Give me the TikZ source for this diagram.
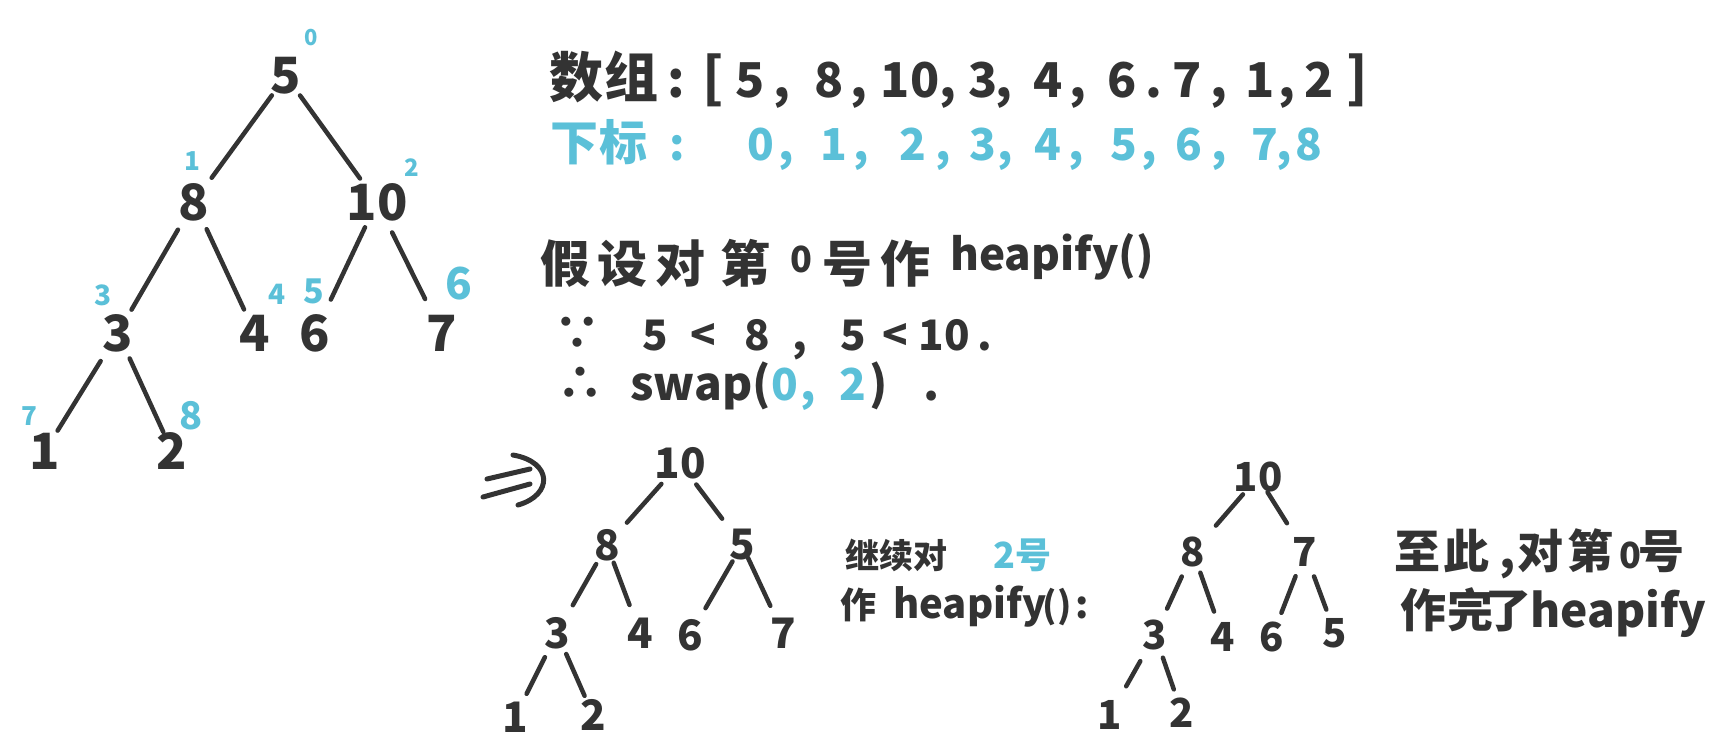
\documentclass[tikz,border=0pt]{standalone}
\usepackage{fontspec}
\setmainfont{Noto Sans CJK SC}
\definecolor{ink}{HTML}{333333}
\definecolor{sky}{HTML}{5BC0D8}
\tikzset{
  hw/.style={font=\bfseries\fontsize{#1}{#1}\selectfont, text=ink, inner sep=0pt},
  hw/.default=40,
  sk/.style={hw=#1, text=sky},
  sk/.default=40,
  link/.style={draw=ink, line width=4.5pt, line cap=round},
}
\begin{document}
\begin{tikzpicture}[x=1pt,y=-1pt]
\fill[white] (0,0) rectangle (1713,755);
\path[use as bounding box] (0,0) rectangle (1713,755);

% ---------- tree 1 ----------
\node[hw=50] (a0) at (286,76) {5};
\node[hw=50] (a1) at (194,202) {8};
\node[hw=50] (a2) at (377,202) {10};
\node[hw=50] (a3) at (118,333) {3};
\node[hw=50] (a4) at (255,333) {4};
\node[hw=50] (a5) at (315,333) {6};
\node[hw=50] (a6) at (442,333) {7};
\node[hw=50] (a7) at (45,451) {1};
\node[hw=50] (a8) at (172,451) {2};
\node[sk=22] (i0) at (311,38) {0};
\node[sk=26] (i1) at (192,161) {1};
\node[sk=24] (i2) at (412,168) {2};
\node[sk=28] (i3) at (103,295) {3};
\node[sk=28] (i4) at (277,294) {4};
\node[sk=34] (i5) at (314,291) {5};
\node[sk=44] (i6) at (459,284) {6};
\node[sk=26] (i7) at (29,416) {7};
\node[sk=38] (i8) at (191,416) {8};
\draw[link, shorten <=24pt, shorten >=30pt] (a0.center) -- (a1.center);
\draw[link, shorten <=24pt, shorten >=29pt] (a0.center) -- (a2.center);
\draw[link, shorten <=32pt, shorten >=27pt] (a1.center) -- (a3.center);
\draw[link, shorten <=30pt, shorten >=26pt] (a1.center) -- (a4.center);
\draw[link, shorten <=28pt, shorten >=37pt] (a2.center) -- (a5.center);
\draw[link, shorten <=34pt, shorten >=38pt] (a2.center) -- (a6.center);
\draw[link, shorten <=33pt, shorten >=24pt] (a3.center) -- (a7.center);
\draw[link, shorten <=28pt, shorten >=21pt] (a3.center) -- (a8.center);

% ---------- header ----------
\foreach \x/\s/\tx [count=\i] in {576/54/数,631/54/组,676/50/:,713/54/{[},750/48/5,782/48/{,},829/48/8,859/48/{,},910/48/10,948/48/{,},983/48/3,1004/48/{,},1048/48/4,1078/48/{,},1122/48/6,1154/48/.,1187/48/7,1219/48/{,},1260/48/1,1287/48/{,},1319/48/2,1357/54/{]}}
  \node[hw=\s, anchor=base] (h\i) at (\x,97) {\tx};
\foreach \x/\s/\tx [count=\i] in {574/48/下,623/48/标,677/44/:,761/44/0,786/44/{,},834/44/1,861/44/{,},913/44/2,943/44/{,},983/44/3,1005/44/{,},1048/44/4,1076/44/{,},1124/44/5,1149/44/{,},1189/44/6,1219/44/{,},1265/44/7,1284/44/{,},1309/44/8}
  \node[sk=\s, anchor=base] (g\i) at (\x,160) {\tx};

% ---------- reasoning ----------
\foreach \x/\y/\s/\tx [count=\i] in {565/282/50/假,622/282/50/设,680/282/50/对,745/282/50/第,801/272/36/0,847/282/50/号,905/282/50/作}
  \node[hw=\s, anchor=base] (p\i) at (\x,\y) {\tx};
\node[hw=44, anchor=base west] (p8) at (950,270) {heapify()};

\foreach \x/\s/\tx [count=\i] in {577/48/∵,655/42/5,703/42/<,757/42/8,800/42/{,},853/42/5,895/42/<,944/42/10,985/42/.}
  \node[hw=\s, anchor=base] (q\i) at (\x,350) {\tx};

\node[hw=48, anchor=base] (r1) at (580,400) {∴};
\node[hw=46, anchor=base west] (r2) at (630,400) {swap(};
\node[sk=44, anchor=base] (r3) at (785,400) {0};
\node[sk=44, anchor=base] (r4) at (808,400) {,};
\node[sk=44, anchor=base] (r5) at (853,400) {2};
\node[hw=46, anchor=base] (r6) at (879,400) {)};
\node[hw=46, anchor=base] (r7) at (932,400) {.};

% ---------- arrow ----------
\draw[link, line width=5pt] (487,479) -- (530,469);
\draw[link, line width=5pt] (483,497) -- (530,484);
\draw[link, line width=5pt] (513,455) .. controls (553,462) and (553,495) .. (518,505);

% ---------- tree 2 ----------
\node[hw=42] (b0) at (680,463) {10};
\node[hw=42] (b1) at (607,545) {8};
\node[hw=42] (b2) at (742,545) {5};
\node[hw=42] (b3) at (557,633) {3};
\node[hw=42] (b4) at (640,633) {4};
\node[hw=42] (b5) at (690,635) {6};
\node[hw=42] (b6) at (783,633) {7};
\node[hw=42] (b7) at (515,717) {1};
\node[hw=42] (b8) at (593,715) {2};
\draw[link, shorten <=28pt, shorten >=30pt] (b0.center) -- (b1.center);
\draw[link, shorten <=27pt, shorten >=33pt] (b0.center) -- (b2.center);
\draw[link, shorten <=22pt, shorten >=32pt] (b1.center) -- (b3.center);
\draw[link, shorten <=19pt, shorten >=30pt] (b1.center) -- (b4.center);
\draw[link, shorten <=19pt, shorten >=31pt] (b2.center) -- (b5.center);
\draw[link, shorten <=14pt, shorten >=30pt] (b2.center) -- (b6.center);
\draw[link, shorten <=27pt, shorten >=26pt] (b3.center) -- (b7.center);
\draw[link, shorten <=23pt, shorten >=21pt] (b3.center) -- (b8.center);

% ---------- middle text ----------
\node[hw=34, anchor=base west] (m1) at (845,568) {继续对};
\node[sk=36, anchor=base] (m4) at (1004,568) {2};
\node[sk=36, anchor=base] (m5) at (1033,568) {号};
\node[hw=36, anchor=base] (n1) at (858,618) {作};
\node[hw=40, anchor=base west] (n2) at (893,618) {heapify};
\node[hw=36, anchor=base] (n3) at (1057,618) {()};
\node[hw=38, anchor=base] (n4) at (1082,618) {:};

% ---------- tree 3 ----------
\node[hw=40] (c0) at (1258,477) {10};
\node[hw=40] (c1) at (1193,552) {8};
\node[hw=40] (c2) at (1305,552) {7};
\node[hw=40] (c3) at (1155,635) {3};
\node[hw=40] (c4) at (1223,637) {4};
\node[hw=40] (c5) at (1272,637) {6};
\node[hw=40] (c6) at (1335,633) {5};
\node[hw=40] (c7) at (1110,715) {1};
\node[hw=40] (c8) at (1182,713) {2};
\draw[link, shorten <=23pt, shorten >=35pt] (c0.center) -- (c1.center);
\draw[link, shorten <=18pt, shorten >=34pt] (c0.center) -- (c2.center);
\draw[link, shorten <=27pt, shorten >=29pt] (c1.center) -- (c3.center);
\draw[link, shorten <=22pt, shorten >=27pt] (c1.center) -- (c4.center);
\draw[link, shorten <=26pt, shorten >=26pt] (c2.center) -- (c5.center);
\draw[link, shorten <=26pt, shorten >=25pt] (c2.center) -- (c6.center);
\draw[link, shorten <=30pt, shorten >=33pt] (c3.center) -- (c7.center);
\draw[link, shorten <=24pt, shorten >=25pt] (c3.center) -- (c8.center);

% ---------- right text ----------
\foreach \x/\s/\tx [count=\i] in {1417/46/至,1466/46/此,1508/46/{,},1540/46/对,1590/46/第,1630/36/0,1661/46/号}
  \node[hw=\s, anchor=base] (s\i) at (\x,568) {\tx};
\foreach \x/\tx [count=\i] in {1423/作,1470/完,1508/了}
  \node[hw=46, anchor=base] (u\i) at (\x,627) {\tx};
\node[hw=46, anchor=base west] (u4) at (1530,627) {heapify};
\end{tikzpicture}
\end{document}
